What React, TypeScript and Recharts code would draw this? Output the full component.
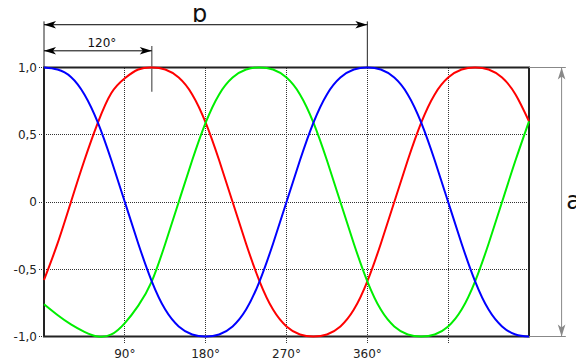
import React from "react";
import { LineChart, Line, XAxis, YAxis, CartesianGrid, ReferenceLine, ReferenceArea } from "recharts";

// angle in degrees, one sample every 15°
const angles = [0, 15, 30, 45, 60, 75, 90, 105, 120, 135, 150, 165, 180, 195, 210, 225, 240, 255, 270, 285, 300, 315, 330, 345, 360, 375, 390, 405, 420, 435, 450, 465, 480, 495, 510, 525, 540];

const blue = [1, 0.985, 0.93, 0.8, 0.59, 0.31, 0, -0.31, -0.59, -0.8, -0.925, -0.985, -1, -0.985, -0.925, -0.8, -0.59, -0.31, 0, 0.31, 0.59, 0.8, 0.925, 0.985, 1, 0.985, 0.925, 0.8, 0.59, 0.31, 0, -0.31, -0.59, -0.8, -0.925, -0.985, -1];
const red = [-0.58, -0.31, 0, 0.31, 0.59, 0.81, 0.92, 0.985, 1, 0.985, 0.925, 0.8, 0.59, 0.31, 0, -0.31, -0.59, -0.8, -0.925, -0.985, -1, -0.985, -0.925, -0.8, -0.59, -0.31, 0, 0.31, 0.59, 0.8, 0.925, 0.985, 1, 0.985, 0.925, 0.8, 0.6];
const green = [-0.76, -0.84, -0.91, -0.965, -1, -0.985, -0.9, -0.77, -0.59, -0.31, 0, 0.31, 0.59, 0.8, 0.925, 0.985, 1, 0.985, 0.925, 0.8, 0.59, 0.31, 0, -0.31, -0.59, -0.8, -0.925, -0.985, -1, -0.985, -0.925, -0.8, -0.59, -0.31, 0, 0.31, 0.6];

const xTicks = [90, 180, 270, 360, 450];
const xTickLabels = ["90°", "180°", "270°", "360°", ""];
const yTicks = [-1, -0.5, 0, 0.5, 1];
const yTickLabels = ["-1,0", "-0,5", "0", "0,5", "1,0"];

const data = angles.map((a, i) => ({ angle: a, blue: blue[i], red: red[i], green: green[i] }));

const FONT = "'DejaVu Sans', Verdana, sans-serif";

function head(x: number, y: number, dx: number, dy: number, color: string) {
  const L = 12, W = 3.8, N = 3;
  const bx = x - dx * L, by = y - dy * L;
  const nx = x - dx * (L - N), ny = y - dy * (L - N);
  const px = -dy, py = dx;
  const pts = `${x},${y} ${bx + px * W},${by + py * W} ${nx},${ny} ${bx - px * W},${by - py * W}`;
  return <polygon points={pts} fill={color} />;
}

type ArrowOpts = {
  color?: string;
  width?: number;
  start?: boolean;
  end?: boolean;
  text?: string;
  textDx?: number;
  textDy?: number;
  fontSize?: number;
};

const arrowShape = (o: ArrowOpts) => (p: any) => {
  const { x1, y1, x2, y2 } = p;
  const color = o.color || "#000";
  const len = Math.hypot(x2 - x1, y2 - y1) || 1;
  const dx = (x2 - x1) / len, dy = (y2 - y1) / len;
  return (
    <g>
      <line x1={x1} y1={y1} x2={x2} y2={y2} stroke={color} strokeWidth={o.width || 1} />
      {o.start && head(x1, y1, -dx, -dy, color)}
      {o.end && head(x2, y2, dx, dy, color)}
      {o.text && (
        <text
          x={(x1 + x2) / 2 + (o.textDx || 0)}
          y={(y1 + y2) / 2 + (o.textDy || 0)}
          textAnchor="middle"
          fontFamily={FONT}
          fontSize={o.fontSize || 12}
          fill="#111"
        >
          {o.text}
        </text>
      )}
    </g>
  );
};

export default function App() {
  // shifted over the body margin so the picture's own pixels line up
  return (
    <div style={{ width: 584, height: 364, margin: "-8px 0 0 -8px", background: "#fff" }}>
      <LineChart width={584} height={364} data={data} margin={{ top: 67.5, right: 55, left: 0, bottom: 3.5 }}>
        <CartesianGrid
          stroke="#333"
          strokeDasharray="1 1"
          shapeRendering="crispEdges"
          horizontalValues={yTicks}
          verticalValues={xTicks}
        />
        <XAxis
          dataKey="angle"
          type="number"
          domain={[0, 540]}
          ticks={xTicks}
          tickFormatter={(v) => xTickLabels[xTicks.indexOf(v)] ?? ""}
          axisLine={false}
          tickLine={{ stroke: "#333", strokeDasharray: "1 1", shapeRendering: "crispEdges" }}
          tickSize={6}
          tickMargin={7}
          height={24}
          interval={0}
          tick={{ fill: "#222", fontSize: 12, fontFamily: FONT }}
        />
        <YAxis
          type="number"
          domain={[-1, 1]}
          ticks={yTicks}
          tickFormatter={(v) => yTickLabels[yTicks.indexOf(v)] ?? ""}
          axisLine={false}
          tickLine={{ stroke: "#333", strokeDasharray: "1 1", shapeRendering: "crispEdges" }}
          tickSize={5}
          tickMargin={2}
          width={44}
          interval={0}
          tick={{ fill: "#222", fontSize: 12, fontFamily: FONT }}
        />
        <ReferenceArea x1={0} x2={540} y1={-1} y2={1} fill="none" stroke="#222" strokeWidth={2} fillOpacity={0} />

        {/* dimension lines */}
        <ReferenceLine segment={[{ x: 0, y: 1 }, { x: 0, y: 1.343 }]} ifOverflow="visible" shape={arrowShape({ color: "#222" })} />
        <ReferenceLine segment={[{ x: 360, y: 1 }, { x: 360, y: 1.343 }]} ifOverflow="visible" shape={arrowShape({ color: "#222" })} />
        <ReferenceLine
          segment={[{ x: 0, y: 1.318 }, { x: 360, y: 1.318 }]}
          ifOverflow="visible"
          shape={arrowShape({ start: true, end: true, text: "b", textDx: -6, textDy: -3, fontSize: 24 })}
        />
        <ReferenceLine segment={[{ x: 120, y: 1.16 }, { x: 120, y: 0.82 }]} ifOverflow="visible" shape={arrowShape({ color: "#777", width: 1.5 })} />
        <ReferenceLine
          segment={[{ x: 0, y: 1.124 }, { x: 120, y: 1.124 }]}
          ifOverflow="visible"
          shape={arrowShape({ start: true, end: true, text: "120°", textDx: 4, textDy: -4, fontSize: 12 })}
        />
        <ReferenceLine segment={[{ x: 540, y: 1 }, { x: 581, y: 1 }]} ifOverflow="visible" shape={arrowShape({ color: "#888" })} />
        <ReferenceLine segment={[{ x: 540, y: -1 }, { x: 581, y: -1 }]} ifOverflow="visible" shape={arrowShape({ color: "#888" })} />
        <ReferenceLine
          segment={[{ x: 576.3, y: 1 }, { x: 576.3, y: -1 }]}
          ifOverflow="visible"
          shape={arrowShape({ color: "#888", start: true, end: true })}
        />
        <ReferenceLine
          segment={[{ x: 576.3, y: 1 }, { x: 576.3, y: -1 }]}
          ifOverflow="visible"
          shape={(p: any) => (
            <text x={p.x1 + 12} y={(p.y1 + p.y2) / 2 + 7} textAnchor="middle" fontFamily={FONT} fontSize={24} fill="#111">
              a
            </text>
          )}
        />

        <Line type="natural" dataKey="red" stroke="#ff0000" strokeWidth={2} dot={false} isAnimationActive={false} />
        <Line type="natural" dataKey="green" stroke="#00ee00" strokeWidth={2} dot={false} isAnimationActive={false} />
        <Line type="natural" dataKey="blue" stroke="#0000ff" strokeWidth={2} dot={false} isAnimationActive={false} />
      </LineChart>
    </div>
  );
}
